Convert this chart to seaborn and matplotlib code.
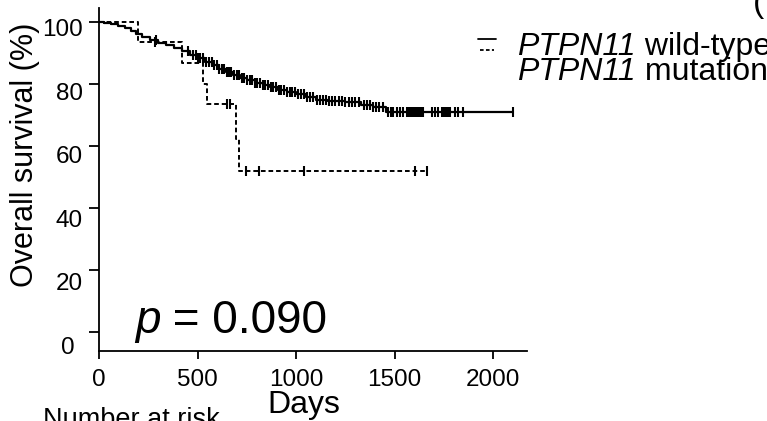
import numpy as np
import pandas as pd
import matplotlib
matplotlib.use("Agg")
import matplotlib.pyplot as plt
from matplotlib.lines import Line2D
import matplotlib.transforms as mtransforms
import seaborn as sns

# Kaplan-Meier curves: day of each event and survival (%) after it
wt_days = [0, 25, 60, 95, 130, 160, 190, 220, 260, 300, 340, 380, 420, 460, 500,
           540, 575, 610, 645, 680, 715, 750, 790, 830, 870, 910, 955, 1000, 1050,
           1100, 1160, 1250, 1330, 1390, 1455]
wt_surv = [100.0, 99.6, 99.2, 98.6, 97.9, 96.9, 96.0, 95.1, 94.1, 93.2, 92.4, 91.5,
           90.5, 89.4, 88.2, 87.0, 86.0, 84.9, 83.9, 82.9, 82.0, 81.1, 80.2, 79.5,
           78.8, 78.1, 77.3, 76.6, 75.8, 74.9, 74.5, 74.0, 73.2, 72.5, 71.0]
wt_last = 2100
wt_censor = [289, 450, 478, 492, 505, 515, 530, 545, 560, 572, 585, 598, 610, 622,
             635, 648, 660, 672, 685, 700, 712, 725, 738, 752, 765, 778, 790, 803,
             815, 830, 845, 858, 872, 885, 898, 912, 925, 940, 955, 968, 982, 995,
             1010, 1025, 1040, 1058, 1072, 1088, 1105, 1120, 1135, 1150, 1168, 1185,
             1200, 1218, 1235, 1250, 1268, 1285, 1300, 1320, 1345, 1360, 1375, 1390,
             1405, 1420, 1440, 1467, 1482, 1492, 1513, 1528, 1543, 1563, 1570, 1578,
             1585, 1592, 1600, 1608, 1615, 1622, 1630, 1638, 1645, 1690, 1706, 1721,
             1741, 1752, 1762, 1772, 1782, 1807, 1822, 1848, 2100]

mut_days = [0, 196, 420, 529, 546, 695, 711]
mut_surv = [100.0, 93.3, 86.7, 80.0, 73.3, 62.2, 51.9]
mut_last = 1665
mut_censor = [284, 648, 665, 746, 812, 1041, 1604, 1665]

y_ticks = [0, 20, 40, 60, 80, 100]
x_ticks = [0, 500, 1000, 1500, 2000]

sns.set_theme(style="ticks")
plt.rcParams["font.family"] = ["Liberation Sans", "DejaVu Sans"]
plt.rcParams["axes.edgecolor"] = "black"
plt.rcParams["xtick.color"] = "black"
plt.rcParams["ytick.color"] = "black"
plt.rcParams["text.color"] = "black"

W, H = 767, 421
fig = plt.figure(figsize=(W / 100, H / 100), dpi=100)


def fx(px):
    return px / W


def fy(py):
    return 1 - py / H


ax = fig.add_axes([fx(99), fy(351), fx(527) - fx(99), fy(8) - fy(351)])


def step_frame(days, surv, last):
    d = list(days) + [last]
    s = list(surv) + [surv[-1]]
    return pd.DataFrame({"days": d, "surv": s})


def surv_at(days, surv, t):
    idx = np.searchsorted(np.asarray(days), np.asarray(t), side="right") - 1
    return np.asarray(surv)[idx]


wt_df = step_frame(wt_days, wt_surv, wt_last)
mut_df = step_frame(mut_days, mut_surv, mut_last)

sns.lineplot(data=wt_df, x="days", y="surv", ax=ax, color="black", lw=1.6,
             drawstyle="steps-post", estimator=None, sort=False)
sns.lineplot(data=mut_df, x="days", y="surv", ax=ax, color="black", lw=1.4,
             drawstyle="steps-post", estimator=None, sort=False,
             linestyle=(0, (2.4, 1.5)))

wt_c = pd.DataFrame({"days": wt_censor, "surv": surv_at(wt_days, wt_surv, wt_censor)})
mut_c = pd.DataFrame({"days": mut_censor, "surv": surv_at(mut_days, mut_surv, mut_censor)})
for cdf in (wt_c, mut_c):
    sns.scatterplot(data=cdf, x="days", y="surv", ax=ax, marker="|", s=60,
                    linewidth=1.5, color="black", zorder=3)

ax.set_xlim(0, (527 - 99) / 0.197)
ax.set_ylim(-(351 - 331.7) / 3.1, 100 + (21.7 - 8) / 3.1)
ax.set_xticks(x_ticks)
ax.set_xticklabels([str(v) for v in x_ticks])
ax.set_yticks(y_ticks)
ax.set_yticklabels([])
ax.tick_params(axis="x", direction="out", length=6, width=1.3, labelsize=17.5, pad=7)
ax.tick_params(axis="y", direction="out", length=7.5, width=1.3, labelleft=False)
ax.set_xlabel("")
ax.set_ylabel("")
for side in ("top", "right"):
    ax.spines[side].set_visible(False)
for side in ("left", "bottom"):
    ax.spines[side].set_linewidth(1.3)

# y tick labels sit on their own scale, slightly below the tick marks
lab = fig.add_axes([fx(99), fy(345), fx(527) - fx(99), fy(28) - fy(345)])
lab.set_ylim(0, 100)
lab.set_yticks(y_ticks)
lab.set_yticklabels([str(v) for v in y_ticks])
lab.tick_params(axis="y", length=0, labelsize=17.5, pad=11.5)
lab.set_xticks([])
lab.patch.set_visible(False)
for s in lab.spines.values():
    s.set_visible(False)
zero_label = lab.get_yticklabels()[0]
zero_label.set_transform(zero_label.get_transform()
                         + mtransforms.ScaledTranslation(-8 / 100, 0, fig.dpi_scale_trans))

fig.text(fx(25), fy(155), "Overall survival (%)", rotation=90, fontsize=22,
         ha="center", va="center")
fig.text(fx(303.5), fy(413), "Days", fontsize=23, ha="center", va="baseline")
fig.text(fx(43), fy(427), "Number at risk", fontsize=19.5, ha="left", va="baseline")

# p-value
tp = fig.text(fx(135), fy(333), "p", fontsize=33, style="italic", va="baseline")
ax.annotate(" = 0.090", xy=(1, 0), xycoords=tp, fontsize=33,
            va="bottom", ha="left", annotation_clip=False)

# legend
fig.add_artist(Line2D([fx(478), fx(496)], [fy(39), fy(39)], color="black", lw=1.3,
                      transform=fig.transFigure))
fig.add_artist(Line2D([fx(480), fx(494)], [fy(50), fy(50)], color="black", lw=1.3,
                      linestyle=(0, (2.0, 1.3)), transform=fig.transFigure))
g1 = fig.text(fx(517), fy(55), "PTPN11", fontsize=23, style="italic", va="baseline")
ax.annotate(" wild-type", xy=(1, 0), xycoords=g1, fontsize=23, va="bottom",
            ha="left", annotation_clip=False)
g2 = fig.text(fx(517), fy(80), "PTPN11", fontsize=23, style="italic", va="baseline")
ax.annotate(" mutation", xy=(1, 0), xycoords=g2, fontsize=23, va="bottom",
            ha="left", annotation_clip=False)

fig.text(fx(753), fy(12), "(", fontsize=24, va="baseline")

fig.savefig("out.png", dpi=100)
